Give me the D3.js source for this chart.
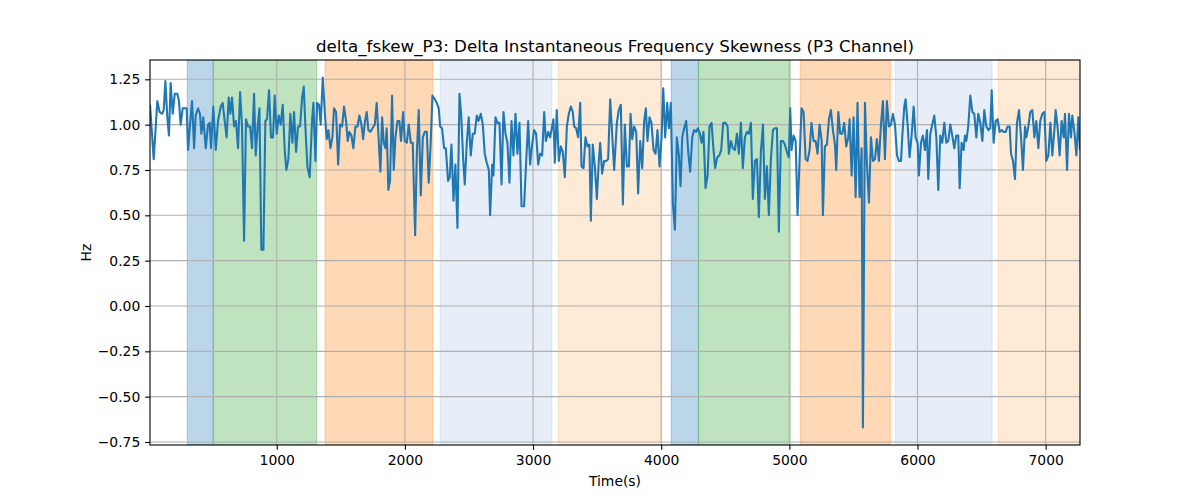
<!DOCTYPE html>
<html><head><meta charset="utf-8">
<script src="https://cdn.jsdelivr.net/npm/d3@7"></script>
<style>body{margin:0;background:#fff} text{font-family:"DejaVu Sans",sans-serif}</style>
</head><body><svg id="c" width="1200" height="500"></svg>
<script>
const times=[11,40,68,86,105,118,131,146,159,172,188,204,224,237,250,266,282,297,308,323,339,355,367,386,401,412,427,446,464,477,487,505,524,542,563,578,594,609,625,638,651,667,682,698,714,729,745,760,776,792,807,823,836,852,865,880,896,911,924,940,955,971,984,1000,1015,1031,1047,1062,1075,1091,1106,1122,1135,1151,1166,1182,1198,1211,1224,1239,1257,1276,1286,1302,1315,1330,1343,1359,1374,1390,1403,1419,1434,1447,1463,1479,1494,1510,1525,1541,1554,1567,1583,1598,1614,1630,1645,1661,1674,1689,1702,1715,1731,1747,1765,1780,1796,1809,1822,1835,1848,1858,1871,1884,1900,1913,1926,1942,1957,1970,1986,1999,2015,2030,2046,2061,2080,2093,2108,2124,2140,2155,2171,2186,2202,2215,2233,2249,2264,2275,2290,2306,2319,2337,2350,2363,2379,2394,2410,2426,2439,2454,2467,2483,2498,2514,2530,2545,2561,2574,2592,2608,2623,2639,2655,2665,2681,2691,2707,2722,2738,2754,2769,2785,2800,2816,2832,2847,2863,2878,2894,2910,2930,2946,2962,2977,2993,3008,3024,3040,3055,3071,3087,3100,3118,3133,3149,3159,3170,3185,3201,3217,3232,3248,3264,3279,3295,3310,3321,3336,3352,3368,3378,3394,3409,3425,3440,3451,3466,3482,3498,3513,3524,3539,3555,3571,3586,3602,3633,
3654,3669,3685,3701,3716,3732,3748,3761,3774,3789,3805,3820,3836,3852,3867,3880,3893,3909,3924,3940,3956,3971,3987,4003,4016,4031,4047,4060,4075,4091,4107,4122,4138,4151,4164,4179,4195,4211,4226,4242,4257,4273,4286,4302,4315,4330,4346,4362,4377,4393,4406,4421,4437,4453,4468,4484,4502,4518,4528,4544,4559,4575,4591,4606,4622,4637,4653,4669,4684,4700,4715,4731,4747,4762,4778,4794,4809,4825,4840,4856,4872,4887,4903,4918,4934,4950,4965,4981,4996,5007,5017,5033,5049,5064,5080,5095,5111,5127,5142,5158,5173,5189,5205,5220,5236,5252,5262,5277,5293,5309,5324,5340,5356,5366,5382,5397,5413,5428,5444,5460,5470,5486,5501,5517,5532,5548,5564,5574,5590,5605,5621,5637,5652,5668,5683,5699,5715,5730,5746,5761,5777,5793,5808,5824,5840,5855,5871,5881,5897,5907,5923,5938,5954,5970,5985,6001,6011,6027,6042,6058,6074,6084,6100,6115,6131,6147,6162,6178,6193,6209,6225,6240,6256,6271,6287,6303,6318,6329,6344,6360,6370,6381,6396,6412,6428,6443,6459,6474,6490,6506,6521,6537,6553,6568,6579,6594,6610,6625,6641,6657,6672,6688,6703,6719,6730,6745,6761,6776,6792,6808,6823,6839,6849,6865,6880,6896,6912,6927,6943,6958,6974,6990,7005,7021,7037,7052,7068,7078,7094,7109,7125,7141,7151,7167,7182,7198,7208,7224,7240,7255,7268];
const values=[1.11,0.81,1.13,1.07,1.06,1.08,1.24,1.04,0.94,1.23,1.06,1.17,1.17,1.13,1.00,1.09,1.09,1.09,0.86,1.00,1.13,0.87,1.05,1.09,1.06,0.95,1.04,0.87,1.00,1.01,0.87,1.10,0.86,1.02,1.10,1.12,1.02,0.93,1.15,1.06,1.15,0.99,1.02,0.87,1.18,0.99,0.36,1.03,0.99,0.99,0.87,1.17,0.83,1.00,1.09,0.31,0.31,1.02,1.03,1.19,0.93,0.93,1.16,0.95,1.05,1.00,1.11,0.86,0.75,0.81,1.06,0.90,1.07,0.85,0.99,0.99,1.15,1.21,0.98,0.77,0.71,1.03,1.12,0.80,1.12,1.11,1.00,1.26,1.08,0.92,0.97,0.87,0.93,1.09,1.07,0.78,1.00,0.99,1.10,1.02,0.91,0.96,0.94,0.87,0.99,0.99,1.05,1.00,0.92,1.02,1.07,0.97,0.96,0.98,1.00,1.12,0.91,0.74,1.04,0.90,0.87,0.98,0.64,0.69,1.16,0.75,0.93,1.02,1.02,0.91,1.07,0.91,0.90,1.00,0.90,0.90,0.39,0.84,1.08,0.61,0.93,0.96,0.96,0.68,0.91,1.16,1.14,1.12,1.09,0.99,0.98,0.87,0.87,0.69,0.71,0.89,0.58,0.78,0.43,1.17,1.06,0.82,0.67,0.90,1.04,0.83,0.95,0.95,1.05,1.02,1.06,1.00,0.84,0.79,0.75,0.50,0.78,0.72,1.04,1.01,1.01,0.67,1.07,0.95,0.90,0.68,1.02,0.83,1.06,0.84,1.01,0.55,0.55,0.79,1.02,0.78,0.89,0.97,0.95,0.78,0.84,0.83,1.07,0.91,0.96,0.93,0.99,1.03,0.79,1.08,0.80,0.88,0.85,0.71,0.99,1.06,1.10,1.07,0.99,0.98,0.93,1.12,0.77,0.76,0.93,0.88,0.89,0.47,0.89,0.77,0.59,0.80,0.90,0.73,0.80,0.80,0.81,1.14,0.75,
1.01,1.08,1.11,0.56,1.00,0.77,0.77,1.06,0.92,0.99,0.96,0.62,0.91,0.76,1.02,1.09,0.91,1.04,1.01,0.86,0.84,0.97,0.77,0.93,1.20,0.93,1.12,0.98,1.12,0.57,0.42,0.93,0.83,0.66,0.93,0.98,1.02,0.85,0.74,0.93,0.97,0.96,0.98,0.95,0.90,0.96,0.65,0.72,0.99,1.01,0.88,0.76,0.82,0.83,0.86,1.01,1.01,0.99,0.84,0.91,0.87,0.86,0.95,0.84,1.01,0.76,0.93,0.96,0.95,1.01,0.59,0.80,0.81,0.49,0.85,1.00,0.59,0.77,0.50,0.81,0.97,0.98,0.98,0.41,0.91,0.91,0.89,0.85,0.82,1.09,0.86,0.94,0.91,0.50,0.81,1.09,1.07,0.81,0.80,0.86,1.01,0.91,0.91,0.84,1.00,0.91,0.50,0.88,0.89,1.03,1.08,0.97,0.89,0.75,1.07,0.95,0.95,1.01,0.88,0.93,1.03,0.72,1.04,0.60,1.12,0.60,0.87,-0.67,1.12,0.79,0.57,0.93,0.80,0.81,0.92,0.80,1.00,1.13,0.81,1.13,0.99,1.00,1.06,1.00,0.83,0.80,0.80,0.93,1.10,1.14,1.00,0.82,0.94,1.10,0.93,0.90,0.72,0.90,0.94,0.86,0.97,0.70,0.95,1.00,1.05,0.93,0.64,0.94,0.90,1.01,0.90,0.91,1.00,0.94,0.87,0.94,0.94,0.65,0.90,0.86,0.94,0.91,0.99,1.16,1.07,1.06,0.93,1.06,1.01,0.91,1.08,0.99,0.97,0.98,1.19,0.90,1.02,1.03,0.96,0.97,0.96,0.96,0.99,0.99,0.84,0.80,0.70,1.01,1.08,0.93,0.75,0.99,0.93,0.99,1.07,1.08,0.93,1.02,0.87,1.02,1.06,1.07,0.80,0.83,1.01,0.83,0.97,1.08,0.98,0.83,1.02,0.93,1.06,0.75,1.06,0.93,1.05,0.96,0.83,1.04,0.86];
const bandStart=[302,505,1377,2275,3198,4078,4291,5085,5827,6629];
const bandEnd=[505,1312,2218,3147,3998,4291,5007,5788,6582,7268];
const bandColor=["#1f77b4","#2ca02c","#ff7f0e","#aec7e8","#ffbb78","#1f77b4","#2ca02c","#ff7f0e","#aec7e8","#ffbb78"];
const xTicks=[1000,2000,3000,4000,5000,6000,7000];
const yTicks=[-0.75,-0.5,-0.25,0,0.25,0.5,0.75,1.0,1.25];
const titleText="delta_fskew_P3: Delta Instantaneous Frequency Skewness (P3 Channel)";
const xLabel="Time(s)", yLabel="Hz";

const W=1200,H=500,m={l:150,r:120,t:60,b:55};
const svg=d3.select('#c');
const x=d3.scaleLinear().domain([times[0],times[times.length-1]]).range([m.l,W-m.r]);
const [lo,hi]=d3.extent(values); const pad=(hi-lo)*0.05;
const y=d3.scaleLinear().domain([lo-pad,hi+pad]).range([H-m.b,m.t]);

svg.append('defs').append('clipPath').attr('id','clip').append('rect')
  .attr('x',m.l).attr('y',m.t).attr('width',W-m.l-m.r).attr('height',H-m.t-m.b);
const plot=svg.append('g').attr('clip-path','url(#clip)');

const bands=bandStart.map((s,i)=>({s,e:bandEnd[i],c:bandColor[i]}));
plot.selectAll('rect.band').data(bands).join('rect').attr('class','band')
  .attr('x',d=>x(d.s)).attr('width',d=>x(d.e)-x(d.s))
  .attr('y',m.t).attr('height',H-m.t-m.b)
  .attr('fill',d=>d.c).attr('fill-opacity',0.3)
  .attr('stroke',d=>d.c).attr('stroke-opacity',0.3).attr('stroke-width',1.1);

plot.selectAll('line.gx').data(xTicks).join('line').attr('class','gx')
  .attr('x1',d=>x(d)).attr('x2',d=>x(d)).attr('y1',m.t).attr('y2',H-m.b)
  .attr('stroke','#b0b0b0').attr('stroke-width',1.1);
plot.selectAll('line.gy').data(yTicks).join('line').attr('class','gy')
  .attr('y1',d=>y(d)).attr('y2',d=>y(d)).attr('x1',m.l).attr('x2',W-m.r)
  .attr('stroke','#b0b0b0').attr('stroke-width',1.1);

const pts=times.map((t,i)=>[t,values[i]]);
plot.append('path').datum(pts)
  .attr('d',d3.line().x(d=>x(d[0])).y(d=>y(d[1])))
  .attr('fill','none').attr('stroke','#1f77b4').attr('stroke-width',2.08)
  .attr('stroke-linejoin','round');

const fs=13.9;
const xa=svg.append('g').attr('transform',`translate(0,${H-m.b})`)
  .call(d3.axisBottom(x).tickValues(xTicks).tickSize(4.86).tickPadding(4.86).tickFormat(d3.format('d')));
const ya=svg.append('g').attr('transform',`translate(${m.l},0)`)
  .call(d3.axisLeft(y).tickValues(yTicks).tickSize(4.86).tickPadding(4.86).tickFormat(d3.format('.2f')));
[xa,ya].forEach(a=>{
  a.select('.domain').remove();
  a.selectAll('line').attr('stroke','#000').attr('stroke-width',1.1);
  a.selectAll('text').attr('font-size',fs).attr('fill','#000').attr('font-family','DejaVu Sans');
});

svg.append('rect').attr('x',m.l).attr('y',m.t).attr('width',W-m.l-m.r).attr('height',H-m.t-m.b)
  .attr('fill','none').attr('stroke','#000').attr('stroke-width',1.1);

svg.append('text').attr('x',(m.l+W-m.r)/2).attr('y',52).attr('text-anchor','middle')
  .attr('font-size',16.7).text(titleText);
svg.append('text').attr('x',(m.l+W-m.r)/2).attr('y',486).attr('text-anchor','middle')
  .attr('font-size',fs).text(xLabel);
svg.append('text').attr('transform',`translate(91,${(m.t+H-m.b)/2}) rotate(-90)`).attr('text-anchor','middle')
  .attr('font-size',fs).text(yLabel);
</script></body></html>
